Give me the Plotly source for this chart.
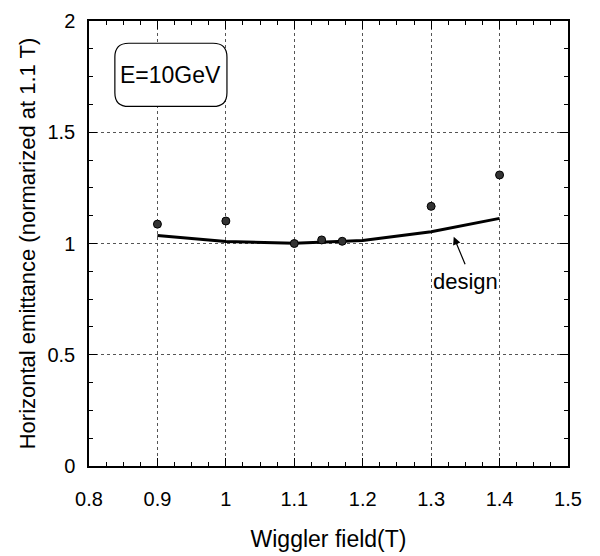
import plotly.graph_objects as go

# measured points
meas_x = [0.9, 1.0, 1.1, 1.14, 1.17, 1.3, 1.4]
meas_y = [1.087, 1.101, 1.0, 1.016, 1.010, 1.167, 1.308]

# design curve
design_x = [0.9, 1.0, 1.1, 1.2, 1.3, 1.4]
design_y = [1.036, 1.009, 1.001, 1.014, 1.053, 1.113]

x_ticks = [0.8, 0.9, 1.0, 1.1, 1.2, 1.3, 1.4, 1.5]
x_labels = ["0.8", "0.9", "1", "1.1", "1.2", "1.3", "1.4", "1.5"]
y_ticks = [0, 0.5, 1, 1.5, 2]
y_labels = ["0", "0.5", "1", "1.5", "2"]

FONT = "Liberation Sans, Arial, sans-serif"
FS = 20

fig = go.Figure()
fig.add_trace(go.Scatter(x=design_x, y=design_y, mode="lines",
                         line=dict(color="black", width=3), showlegend=False))
fig.add_trace(go.Scatter(x=meas_x, y=meas_y, mode="markers",
                         marker=dict(size=8, color="#333333",
                                     line=dict(color="black", width=1)),
                         showlegend=False))

axis_common = dict(
    showline=True, linecolor="black", linewidth=1.5, mirror="allticks",
    ticks="inside", ticklen=8, tickwidth=1, tickcolor="black",
    showgrid=True, gridcolor="#555555", gridwidth=1, griddash="dot",
    zeroline=False, automargin=False, ticklabeloverflow="allow",
    tickfont=dict(family=FONT, size=FS, color="black"),
)

fig.update_xaxes(range=[0.8, 1.5], tickvals=x_ticks, ticktext=x_labels,
                 minor=dict(dtick=0.025, tick0=0.8, ticks="inside", ticklen=4,
                            tickcolor="black", showgrid=False),
                 ticklabelstandoff=14,
                 title=dict(text="Wiggler field(T)", standoff=22,
                            font=dict(family=FONT, size=23, color="black")),
                 **axis_common)
fig.update_yaxes(range=[0, 2], tickvals=y_ticks, ticktext=y_labels,
                 minor=dict(dtick=0.125, tick0=0, ticks="inside", ticklen=4,
                            tickcolor="black", showgrid=False),
                 ticklabelstandoff=8,
                 title=dict(text="Horizontal emittance (normarized at 1.1 T)", standoff=6,
                            font=dict(family=FONT, size=22, color="black")),
                 **axis_common)

# rounded box for energy label (paper coords)
x0, x1, y0, y1 = 0.054, 0.288, 0.808, 0.950
rx, ry = 0.029, 0.031
path = (f"M {x0+rx},{y1} L {x1-rx},{y1} Q {x1},{y1} {x1},{y1-ry} "
        f"L {x1},{y0+ry} Q {x1},{y0} {x1-rx},{y0} L {x0+rx},{y0} "
        f"Q {x0},{y0} {x0},{y0+ry} L {x0},{y1-ry} Q {x0},{y1} {x0+rx},{y1} Z")
fig.add_shape(type="path", path=path, xref="paper", yref="paper",
              line=dict(color="black", width=1.2), fillcolor="white", layer="above")
fig.add_annotation(x=(x0+x1)/2, y=(y0+y1)/2, xref="paper", yref="paper",
                   xanchor="center", yanchor="middle",
                   text="E=10GeV", showarrow=False,
                   font=dict(family=FONT, size=23, color="black"))

fig.add_annotation(x=1.333, y=1.03, ax=12, ay=29,
                   text="", showarrow=True, arrowhead=2, arrowsize=1.3, arrowwidth=1.2,
                   arrowcolor="black")
fig.add_annotation(x=1.35, y=0.83, text="design", showarrow=False,
                   xanchor="center", yanchor="middle",
                   font=dict(family=FONT, size=22, color="black"))

# page body adds an 8px margin, so the figure is 8px smaller than the window
fig.update_layout(width=592, height=548,
                  margin=dict(l=81, r=32, t=13, b=90),
                  plot_bgcolor="white", paper_bgcolor="white",
                  font=dict(family=FONT, size=FS, color="black"))

fig.write_html("out.html")
